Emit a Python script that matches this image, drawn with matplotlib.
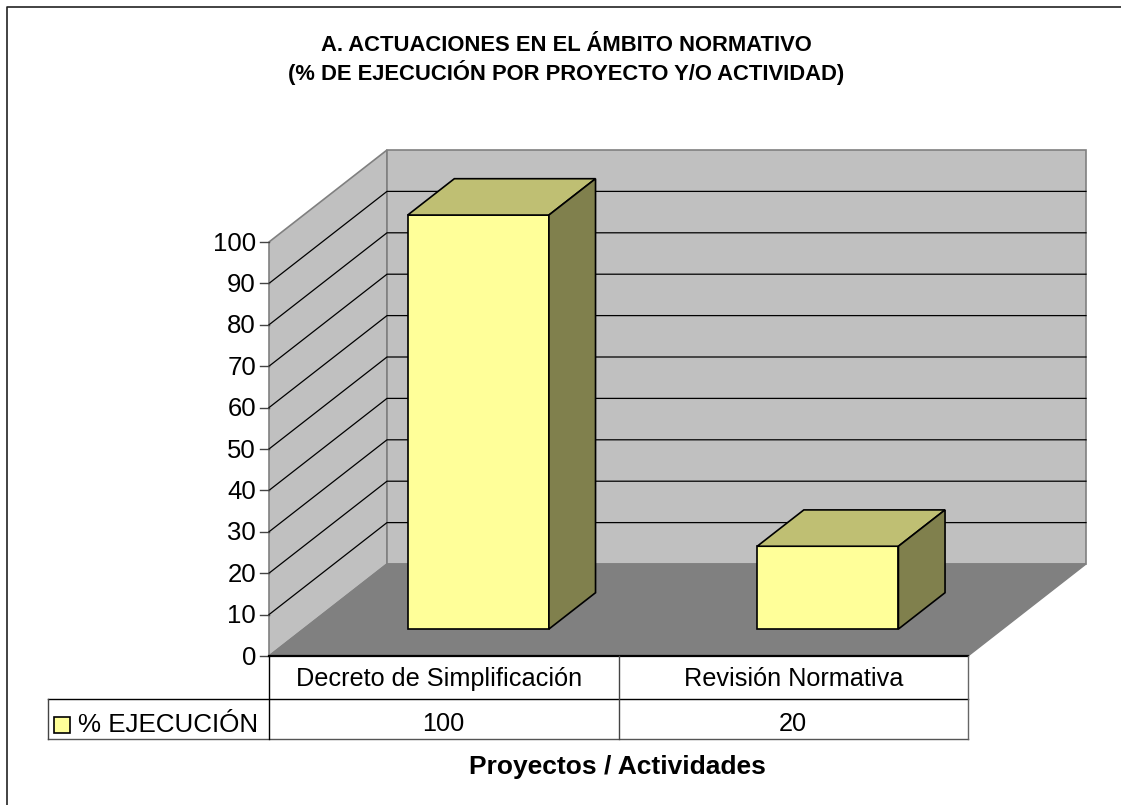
import matplotlib
matplotlib.use('Agg')
import matplotlib.pyplot as plt
from matplotlib.patches import Polygon, Rectangle

plt.rcParams['font.family'] = ['Liberation Sans', 'DejaVu Sans']

title = "A. ACTUACIONES EN EL ÁMBITO NORMATIVO\n(% DE EJECUCIÓN POR PROYECTO Y/O ACTIVIDAD)"
categories = ['Decreto de Simplificación', 'Revisión Normativa']
values = [100, 20]
series_name = '% EJECUCIÓN'
yticks = list(range(0, 101, 10))
xlabel = 'Proyectos / Actividades'

# plot box in pixels
X0, X1 = 269, 968
Y0, Y100 = 656, 242
DX, DY = 118, -92
cat_w = (X1 - X0) / len(categories)
bar_w = 0.404
d_front, d_back = 0.293, 0.688


def proj(x, v, d=0.0):
    # x in category units, v in % and d = depth 0..1
    return (X0 + x * cat_w + d * DX, Y0 + v * (Y100 - Y0) / 100.0 + d * DY)


fig = plt.figure(figsize=(11.21, 8.05), dpi=100)
ax = fig.add_axes([0, 0, 1, 1])
ax.set_xlim(0, 1121)
ax.set_ylim(805, 0)
ax.axis('off')

# chart frame
ax.plot([6.5, 6.5, 1121], [805, 7.5, 7.5], color='#222222', lw=1.2, zorder=1)

n = len(categories)
wall = '#c0c0c0'
edge = '#808080'
ax.add_patch(Polygon([proj(0, 0), proj(0, 100, 0), proj(0, 100, 1), proj(0, 0, 1)],
                     fc=wall, ec=edge, lw=1.2, zorder=2))
ax.add_patch(Polygon([proj(0, 0, 1), proj(0, 100, 1), proj(n, 100, 1), proj(n, 0, 1)],
                     fc=wall, ec=edge, lw=1.2, zorder=2))
ax.add_patch(Polygon([proj(0, 0), proj(n, 0), proj(n, 0, 1), proj(0, 0, 1)],
                     fc=edge, ec=edge, lw=1, zorder=3))

# gridlines along both walls and the ticks
for t in yticks:
    if 0 < t < 100:
        xs, ys = zip(proj(0, t), proj(0, t, 1), proj(n, t, 1))
        ax.plot(xs, ys, color='black', lw=0.9, zorder=3)
    px, py = proj(0, t)
    ax.plot([px - 9, px], [py, py], color='#444444', lw=1, zorder=3)
    ax.text(px - 13, py + 1.5, str(t), ha='right', va='center', fontsize=18.5, color='black')

# bars
front = '#ffff99'
top = '#bfbf73'
side = '#80804d'
for i, v in enumerate(values):
    l = i + 0.5 - bar_w / 2
    r = i + 0.5 + bar_w / 2
    ax.add_patch(Polygon([proj(l, 0, d_front), proj(r, 0, d_front), proj(r, v, d_front), proj(l, v, d_front)],
                         fc=front, ec='black', lw=1.2, zorder=5))
    ax.add_patch(Polygon([proj(l, v, d_front), proj(r, v, d_front), proj(r, v, d_back), proj(l, v, d_back)],
                         fc=top, ec='black', lw=1.2, zorder=5))
    ax.add_patch(Polygon([proj(r, 0, d_front), proj(r, 0, d_back), proj(r, v, d_back), proj(r, v, d_front)],
                         fc=side, ec='black', lw=1.2, zorder=5))

# data table under the plot
row1, row2 = 699, 739
legend_x = 47.5
ax.plot([X0, X1], [Y0, Y0], color='black', lw=1.6, zorder=6)
ax.plot([legend_x, X1], [row1, row1], color='black', lw=1, zorder=6)
ax.plot([legend_x, X1], [row2, row2], color='#555555', lw=1, zorder=6)
ax.plot([legend_x, legend_x], [row1, row2], color='#444444', lw=1, zorder=6)
ax.plot([X0, X0], [Y0, row2], color='black', lw=1, zorder=6)
ax.plot([X1, X1], [Y0, row2], color='#666666', lw=1, zorder=6)
for i in range(1, n):
    mid = X0 + i * cat_w
    ax.plot([mid, mid], [Y0, row2], color='#444444', lw=1, zorder=6)
label_shift = [-5, 0]  # first label sits a little left of its cell centre
for i, c in enumerate(categories):
    cx = X0 + (i + 0.5) * cat_w
    ax.text(cx + label_shift[i], 679, c, ha='center', va='center', fontsize=18.2)
    ax.text(cx, 724, str(values[i]), ha='center', va='center', fontsize=18.2)

ax.add_patch(Rectangle((54, 717), 16, 16, fc=front, ec='black', lw=1.2, zorder=6))
ax.text(78, 725, series_name, ha='left', va='center', fontsize=18.7)

ax.text(566, 60, title, ha='center', va='center', fontsize=15.8, fontweight='bold',
        linespacing=1.2)
ax.text(617.5, 767, xlabel, ha='center', va='center', fontsize=19, fontweight='bold')

fig.savefig('out.png', dpi=100)
